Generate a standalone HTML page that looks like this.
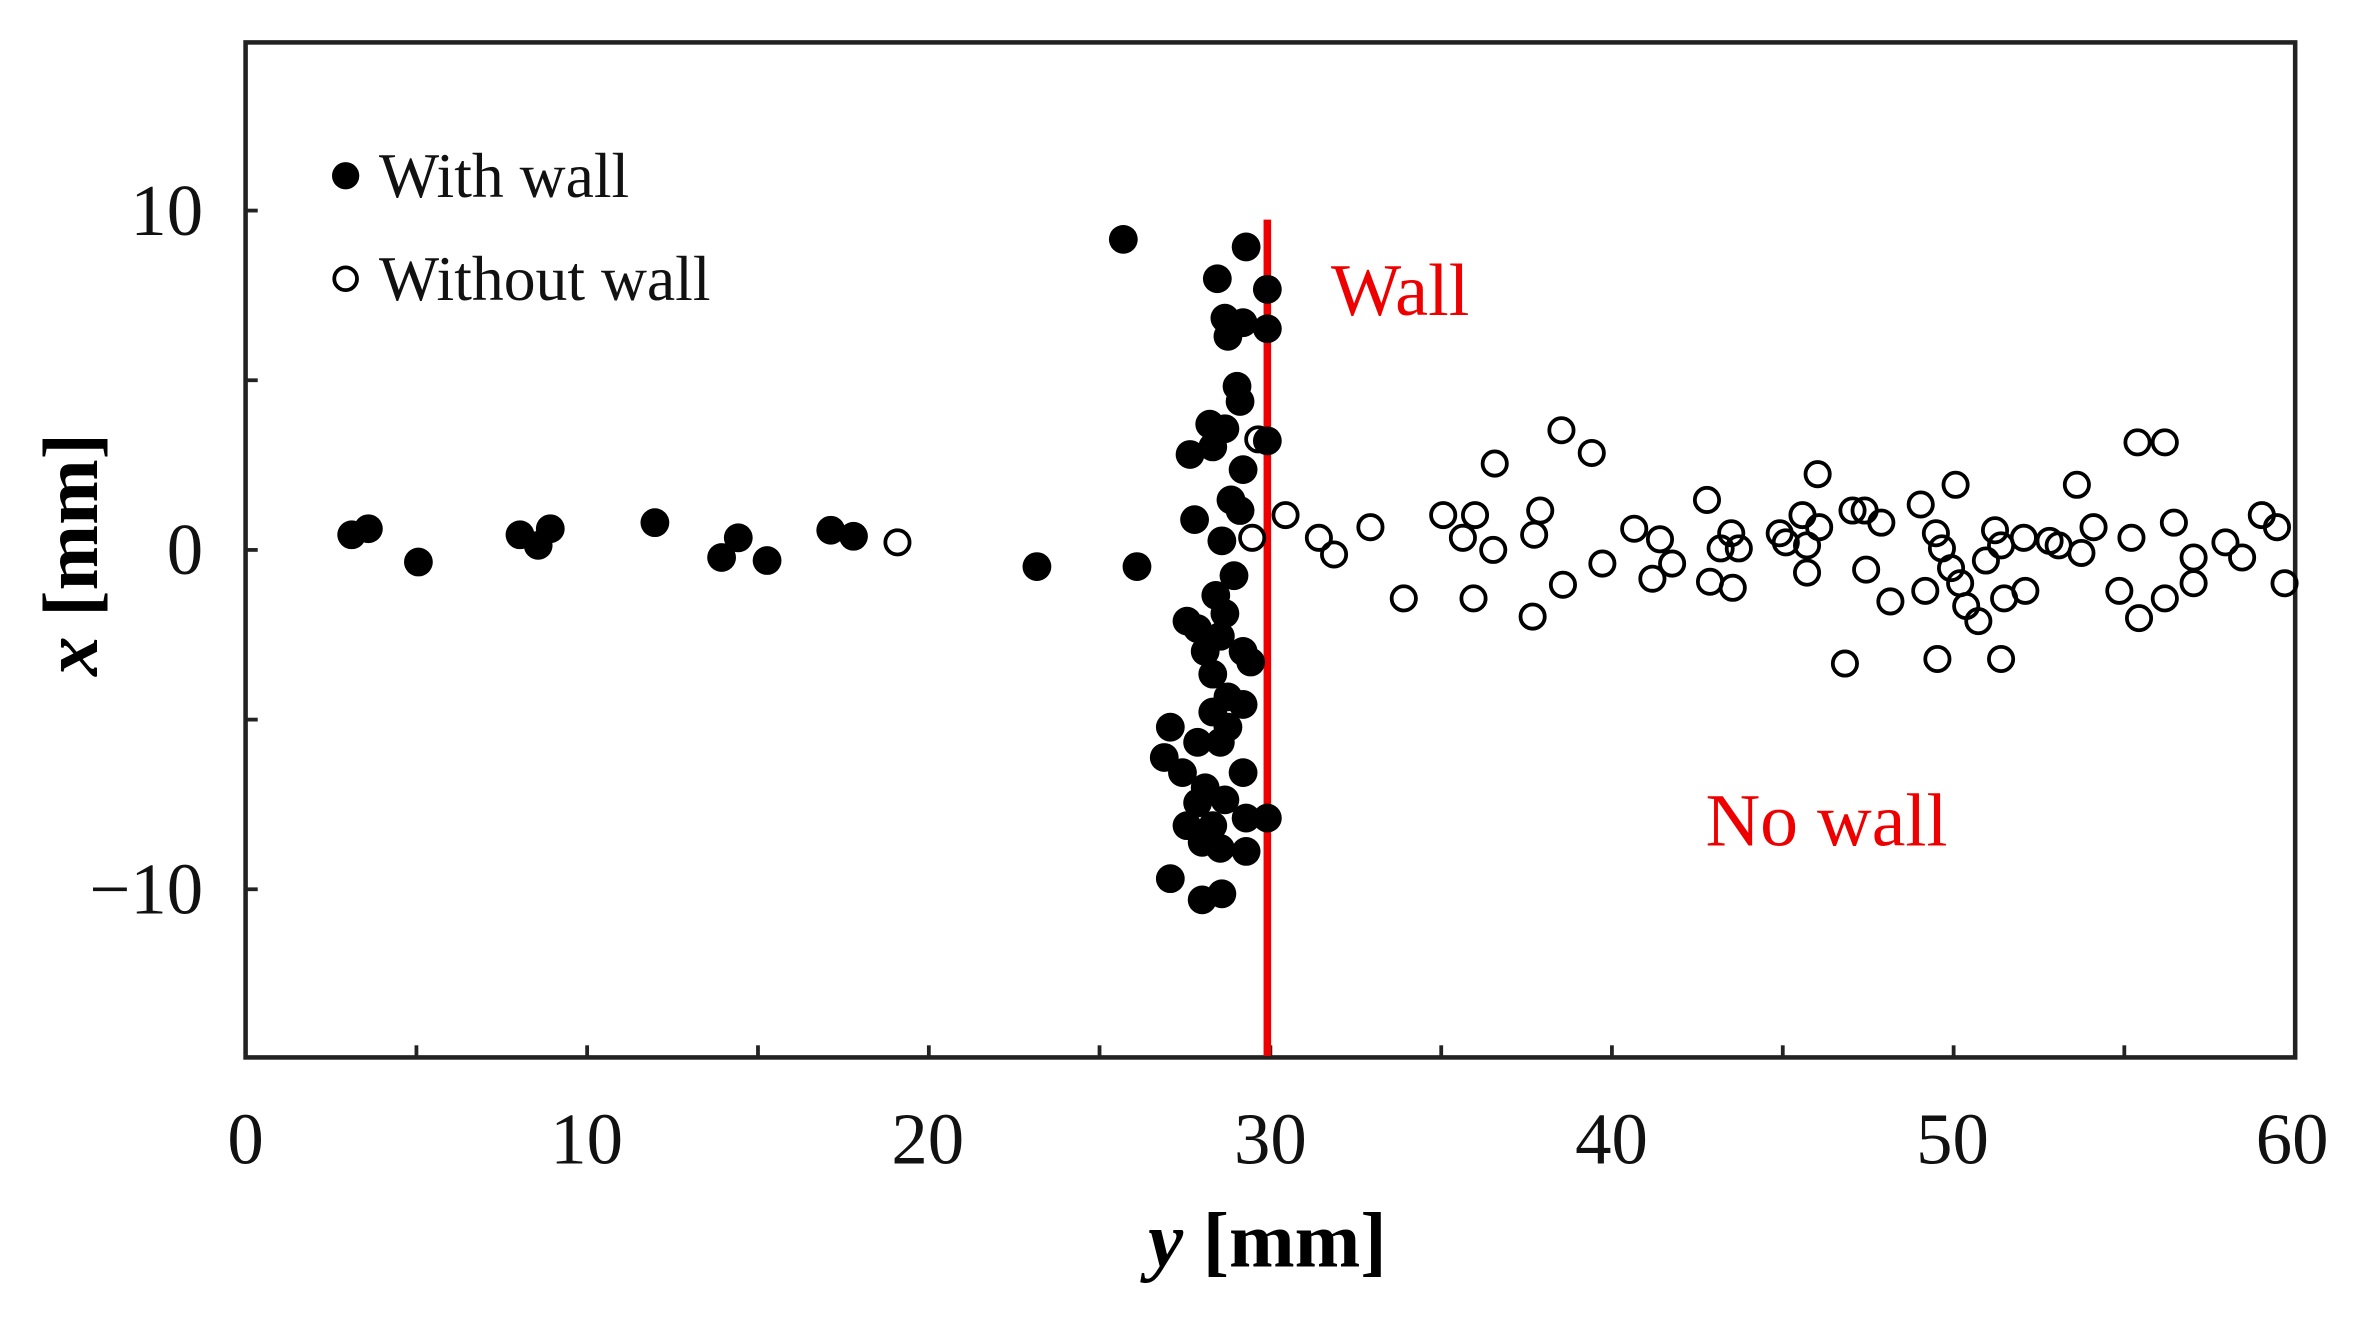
<!DOCTYPE html>
<html><head><style>html,body{margin:0;padding:0;background:#fff}svg{display:block}</style></head>
<body>
<svg width="2374" height="1318" viewBox="0 0 1566 870" preserveAspectRatio="none" xmlns="http://www.w3.org/2000/svg" font-family="Liberation Serif, serif">
<rect width="1566" height="870" fill="#fff"/>
<rect x="162" y="28" width="1352" height="670" fill="none" stroke="#222" stroke-width="3"/>
<g stroke="#222" stroke-width="2.5">
<line x1="274.7" y1="698" x2="274.7" y2="690"/><line x1="387.3" y1="698" x2="387.3" y2="690"/><line x1="500" y1="698" x2="500" y2="690"/><line x1="612.7" y1="698" x2="612.7" y2="690"/><line x1="725.3" y1="698" x2="725.3" y2="690"/><line x1="838" y1="698" x2="838" y2="690"/><line x1="950.7" y1="698" x2="950.7" y2="690"/><line x1="1063.3" y1="698" x2="1063.3" y2="690"/><line x1="1176" y1="698" x2="1176" y2="690"/><line x1="1288.7" y1="698" x2="1288.7" y2="690"/><line x1="1401.3" y1="698" x2="1401.3" y2="690"/>
<line x1="162" y1="139" x2="170" y2="139"/><line x1="162" y1="251" x2="170" y2="251"/><line x1="162" y1="363" x2="170" y2="363"/><line x1="162" y1="475" x2="170" y2="475"/><line x1="162" y1="587" x2="170" y2="587"/>
</g>
<g font-size="48" fill="#111" text-anchor="middle">
<text x="162" y="768">0</text><text x="387" y="768">10</text><text x="612" y="768">20</text><text x="838" y="768">30</text><text x="1063" y="768">40</text><text x="1288" y="768">50</text><text x="1512" y="768">60</text>
</g>
<g font-size="48" fill="#111" text-anchor="end">
<text x="134" y="155">10</text><text x="134" y="379">0</text><text x="134" y="603">−10</text>
</g>
<text x="836" y="836" font-size="52" font-weight="bold" text-anchor="middle"><tspan font-style="italic">y</tspan> [mm]</text>
<text transform="translate(64,366) rotate(-90)" font-size="52" font-weight="bold" text-anchor="middle"><tspan font-style="italic">x</tspan> [mm]</text>
<circle cx="228" cy="116" r="9" fill="#000"/>
<text x="250" y="130" font-size="42" fill="#111">With wall</text>
<circle cx="228" cy="184" r="7.5" fill="none" stroke="#000" stroke-width="2.5"/>
<text x="250" y="198" font-size="42" fill="#111">Without wall</text>
<line x1="836" y1="145" x2="836" y2="697" stroke="#e00" stroke-width="5"/>
<text x="878" y="208" font-size="49" fill="#e00">Wall</text>
<text x="1125" y="558" font-size="50" fill="#e00">No wall</text>
<g fill="none" stroke="#000" stroke-width="2.5">
<circle cx="592" cy="358" r="8"/><circle cx="848" cy="340" r="8"/><circle cx="870" cy="355" r="8"/><circle cx="880" cy="366" r="8"/><circle cx="904" cy="348" r="8"/><circle cx="926" cy="395" r="8"/><circle cx="952" cy="340" r="8"/><circle cx="965" cy="355" r="8"/><circle cx="973" cy="340" r="8"/><circle cx="972" cy="395" r="8"/><circle cx="985" cy="363" r="8"/><circle cx="986" cy="306" r="8"/><circle cx="1011" cy="407" r="8"/><circle cx="1012" cy="353" r="8"/><circle cx="1016" cy="337" r="8"/><circle cx="1030" cy="284" r="8"/><circle cx="1031" cy="386" r="8"/><circle cx="1050" cy="299" r="8"/><circle cx="1057" cy="372" r="8"/><circle cx="1078" cy="349" r="8"/><circle cx="1090" cy="382" r="8"/><circle cx="1095" cy="356" r="8"/><circle cx="1103" cy="372" r="8"/><circle cx="1126" cy="330" r="8"/><circle cx="1128" cy="384" r="8"/><circle cx="1135" cy="362" r="8"/><circle cx="1142" cy="352" r="8"/><circle cx="1143" cy="388" r="8"/><circle cx="1147" cy="362" r="8"/><circle cx="1174" cy="352" r="8"/><circle cx="1178" cy="358" r="8"/><circle cx="1189" cy="340" r="8"/><circle cx="1192" cy="360" r="8"/><circle cx="1192" cy="378" r="8"/><circle cx="1199" cy="313" r="8"/><circle cx="1200" cy="348" r="8"/><circle cx="1217" cy="438" r="8"/><circle cx="1222" cy="337" r="8"/><circle cx="1230" cy="337" r="8"/><circle cx="1231" cy="376" r="8"/><circle cx="1241" cy="345" r="8"/><circle cx="1247" cy="397" r="8"/><circle cx="1267" cy="333" r="8"/><circle cx="1270" cy="390" r="8"/><circle cx="1277" cy="352" r="8"/><circle cx="1278" cy="435" r="8"/><circle cx="1281" cy="362" r="8"/><circle cx="1287" cy="375" r="8"/><circle cx="1290" cy="320" r="8"/><circle cx="1293" cy="385" r="8"/><circle cx="1297" cy="400" r="8"/><circle cx="1305" cy="410" r="8"/><circle cx="1310" cy="370" r="8"/><circle cx="1316" cy="350" r="8"/><circle cx="1320" cy="435" r="8"/><circle cx="1320" cy="360" r="8"/><circle cx="1322" cy="395" r="8"/><circle cx="1335" cy="355" r="8"/><circle cx="1336" cy="390" r="8"/><circle cx="1352" cy="357" r="8"/><circle cx="1358" cy="360" r="8"/><circle cx="1370" cy="320" r="8"/><circle cx="1373" cy="365" r="8"/><circle cx="1381" cy="348" r="8"/><circle cx="1398" cy="390" r="8"/><circle cx="1406" cy="355" r="8"/><circle cx="1410" cy="292" r="8"/><circle cx="1411" cy="408" r="8"/><circle cx="1428" cy="292" r="8"/><circle cx="1428" cy="395" r="8"/><circle cx="1434" cy="345" r="8"/><circle cx="1447" cy="385" r="8"/><circle cx="1447" cy="368" r="8"/><circle cx="1468" cy="358" r="8"/><circle cx="1479" cy="368" r="8"/><circle cx="1492" cy="340" r="8"/><circle cx="1502" cy="348" r="8"/><circle cx="1507" cy="385" r="8"/><circle cx="826" cy="355" r="8"/><circle cx="830" cy="290" r="8"/>
</g>
<g fill="#000">
<circle cx="232" cy="353" r="9.5"/><circle cx="243" cy="349" r="9.5"/><circle cx="276" cy="371" r="9.5"/><circle cx="343" cy="353" r="9.5"/><circle cx="355" cy="360" r="9.5"/><circle cx="363" cy="349" r="9.5"/><circle cx="432" cy="345" r="9.5"/><circle cx="476" cy="368" r="9.5"/><circle cx="487" cy="355" r="9.5"/><circle cx="506" cy="370" r="9.5"/><circle cx="548" cy="350" r="9.5"/><circle cx="563" cy="354" r="9.5"/><circle cx="684" cy="374" r="9.5"/><circle cx="750" cy="374" r="9.5"/><circle cx="741" cy="158" r="9.5"/><circle cx="822" cy="163" r="9.5"/><circle cx="803" cy="184" r="9.5"/><circle cx="836" cy="191" r="9.5"/><circle cx="808" cy="210" r="9.5"/><circle cx="820" cy="213" r="9.5"/><circle cx="836" cy="217" r="9.5"/><circle cx="810" cy="222" r="9.5"/><circle cx="816" cy="255" r="9.5"/><circle cx="818" cy="265" r="9.5"/><circle cx="798" cy="280" r="9.5"/><circle cx="808" cy="283" r="9.5"/><circle cx="836" cy="291" r="9.5"/><circle cx="785" cy="300" r="9.5"/><circle cx="800" cy="295" r="9.5"/><circle cx="820" cy="310" r="9.5"/><circle cx="788" cy="343" r="9.5"/><circle cx="812" cy="330" r="9.5"/><circle cx="818" cy="337" r="9.5"/><circle cx="806" cy="357" r="9.5"/><circle cx="814" cy="380" r="9.5"/><circle cx="802" cy="393" r="9.5"/><circle cx="808" cy="405" r="9.5"/><circle cx="783" cy="410" r="9.5"/><circle cx="790" cy="415" r="9.5"/><circle cx="805" cy="420" r="9.5"/><circle cx="820" cy="430" r="9.5"/><circle cx="795" cy="430" r="9.5"/><circle cx="825" cy="437" r="9.5"/><circle cx="800" cy="445" r="9.5"/><circle cx="810" cy="460" r="9.5"/><circle cx="820" cy="465" r="9.5"/><circle cx="800" cy="470" r="9.5"/><circle cx="772" cy="480" r="9.5"/><circle cx="810" cy="480" r="9.5"/><circle cx="790" cy="490" r="9.5"/><circle cx="768" cy="500" r="9.5"/><circle cx="805" cy="490" r="9.5"/><circle cx="780" cy="510" r="9.5"/><circle cx="820" cy="510" r="9.5"/><circle cx="795" cy="520" r="9.5"/><circle cx="790" cy="530" r="9.5"/><circle cx="808" cy="528" r="9.5"/><circle cx="783" cy="545" r="9.5"/><circle cx="800" cy="545" r="9.5"/><circle cx="822" cy="540" r="9.5"/><circle cx="836" cy="540" r="9.5"/><circle cx="793" cy="556" r="9.5"/><circle cx="805" cy="560" r="9.5"/><circle cx="822" cy="562" r="9.5"/><circle cx="772" cy="580" r="9.5"/><circle cx="793" cy="594" r="9.5"/><circle cx="806" cy="590" r="9.5"/>
</g>
</svg>
</body></html>
